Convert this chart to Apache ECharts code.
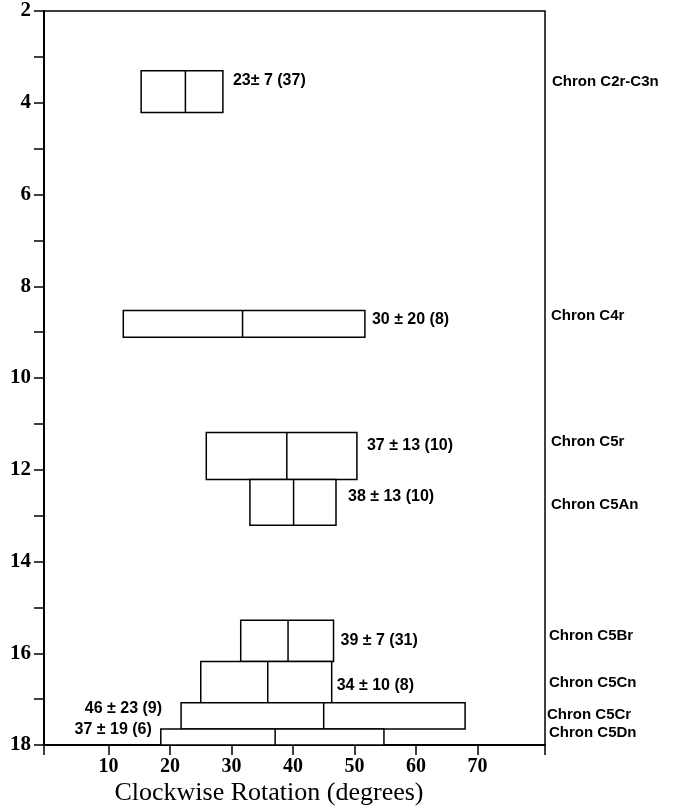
<!DOCTYPE html>
<html>
<head>
<meta charset="UTF-8">
<title>Clockwise Rotation by Chron</title>
<style>
  html, body { margin: 0; padding: 0; background: #fff; }
  #main { width: 673px; height: 812px; }
</style>
</head>
<body>
<div id="main"></div>
<script src="https://cdn.jsdelivr.net/npm/echarts@6/dist/echarts.min.js"></script>
<script>
// data
var chrons    = ['Chron C2r-C3n', 'Chron C4r', 'Chron C5r', 'Chron C5An', 'Chron C5Br', 'Chron C5Cn', 'Chron C5Cr', 'Chron C5Dn'];
var rotLow    = [15.3, 12.4, 25.9, 33.0, 31.5, 25.0, 21.8, 18.5];
var rotMean   = [22.5, 31.8, 39.0, 40.1, 39.2, 35.9, 45.0, 37.1];
var rotHigh   = [28.6, 51.7, 50.4, 47.0, 46.6, 46.3, 68.0, 54.8];
var ageTop    = [3.30, 8.53, 11.19, 12.21, 15.28, 16.18, 17.08, 17.65];
var ageBase   = [4.21, 9.11, 12.21, 13.21, 16.18, 17.08, 17.65, 18.00];
var statTags  = ['23\u00b1 7 (37)', '30 \u00b1 20 (8)', '37 \u00b1 13 (10)', '38 \u00b1 13 (10)', '39 \u00b1 7 (31)', '34 \u00b1 10 (8)', '46 \u00b1 23 (9)', '37 \u00b1 19 (6)'];
var xTickLabels = [10, 20, 30, 40, 50, 60, 70];

// label placement (px): [dx from box edge, dy from box centre]; negative dx = left of box
var statNudge  = [[10, -11], [7, -4], [10, -10], [12, -6], [7, 0], [5, 3], [-19, -7], [-9, -7]];
var chronNudge = [[7, -10], [6, -8], [6, -14], [6, 3], [4, -5], [4, 1], [2, -1], [4, -4]];

var rows = [];
for (var i = 0; i < chrons.length; i++) {
  rows.push([rotLow[i], rotMean[i], rotHigh[i], ageTop[i], ageBase[i]]);
}

var serif = '"Liberation Serif", "DejaVu Serif", serif';
var sans = '"Liberation Sans", Arial, sans-serif';

function renderBox(params, api) {
  var i = params.dataIndex;
  var a = api.coord([api.value(0), api.value(3)]);
  var b = api.coord([api.value(2), api.value(4)]);
  var m1 = api.coord([api.value(1), api.value(3)]);
  var m2 = api.coord([api.value(1), api.value(4)]);
  var cy = (a[1] + b[1]) / 2;
  var edge = params.coordSys.x + params.coordSys.width;
  var dx = statNudge[i][0];
  var tx = dx >= 0 ? b[0] + dx : a[0] + dx;
  return {
    type: 'group',
    children: [
      { type: 'rect', shape: { x: a[0], y: a[1], width: b[0] - a[0], height: b[1] - a[1] },
        style: { fill: '#fff', stroke: '#000', lineWidth: 1.5 } },
      { type: 'line', shape: { x1: m1[0], y1: m1[1], x2: m2[0], y2: m2[1] },
        style: { stroke: '#000', lineWidth: 1.5 } },
      { type: 'text', style: { text: statTags[i], x: tx, y: cy + statNudge[i][1],
          textAlign: dx >= 0 ? 'left' : 'right', textVerticalAlign: 'middle',
          align: dx >= 0 ? 'left' : 'right', verticalAlign: 'middle',
          font: 'bold 16px ' + sans, fill: '#000' } },
      { type: 'text', style: { text: chrons[i], x: edge + chronNudge[i][0], y: cy + chronNudge[i][1],
          textAlign: 'left', textVerticalAlign: 'middle', align: 'left', verticalAlign: 'middle',
          font: 'bold 15px ' + sans, fill: '#000' } }
    ]
  };
}

var chart = echarts.init(document.getElementById('main'));
chart.setOption({
  backgroundColor: '#fff',
  animation: false,
  title: {
    text: 'Clockwise Rotation (degrees)',
    left: 264, top: 775, textAlign: 'center',
    textStyle: { fontFamily: serif, fontWeight: 'normal', fontSize: 26, color: '#000' }
  },
  grid: {
    left: 44, right: 128, top: 11, bottom: 67,
    show: true, borderColor: '#000', borderWidth: 1.5, backgroundColor: 'transparent'
  },
  xAxis: {
    type: 'value', min: -0.5, max: 81,
    axisLine: { onZero: false, lineStyle: { color: '#000', width: 2 } },
    axisTick: { inside: false, length: 10, lineStyle: { color: '#000', width: 1.5 },
      customValues: [-0.5].concat(xTickLabels, [81]) },
    axisLabel: { customValues: xTickLabels, margin: 12, color: '#000',
      fontFamily: serif, fontWeight: 'bold', fontSize: 20 },
    splitLine: { show: false }
  },
  yAxis: {
    type: 'value', inverse: true, min: 2, max: 18, interval: 1,
    axisLine: { show: true, onZero: false, lineStyle: { color: '#000', width: 2 } },
    axisTick: { show: true, inside: false, length: 10, lineStyle: { color: '#000', width: 1.5 } },
    axisLabel: {
      margin: 13, color: '#000', fontFamily: serif, fontWeight: 'bold', fontSize: 21,
      formatter: function (v) { return v % 2 === 0 ? String(v) : ''; }
    },
    splitLine: { show: false }
  },
  series: [{
    type: 'custom',
    renderItem: renderBox,
    encode: { x: [0, 1, 2], y: [3, 4] },
    data: rows,
    clip: false
  }]
});
</script>
</body>
</html>
